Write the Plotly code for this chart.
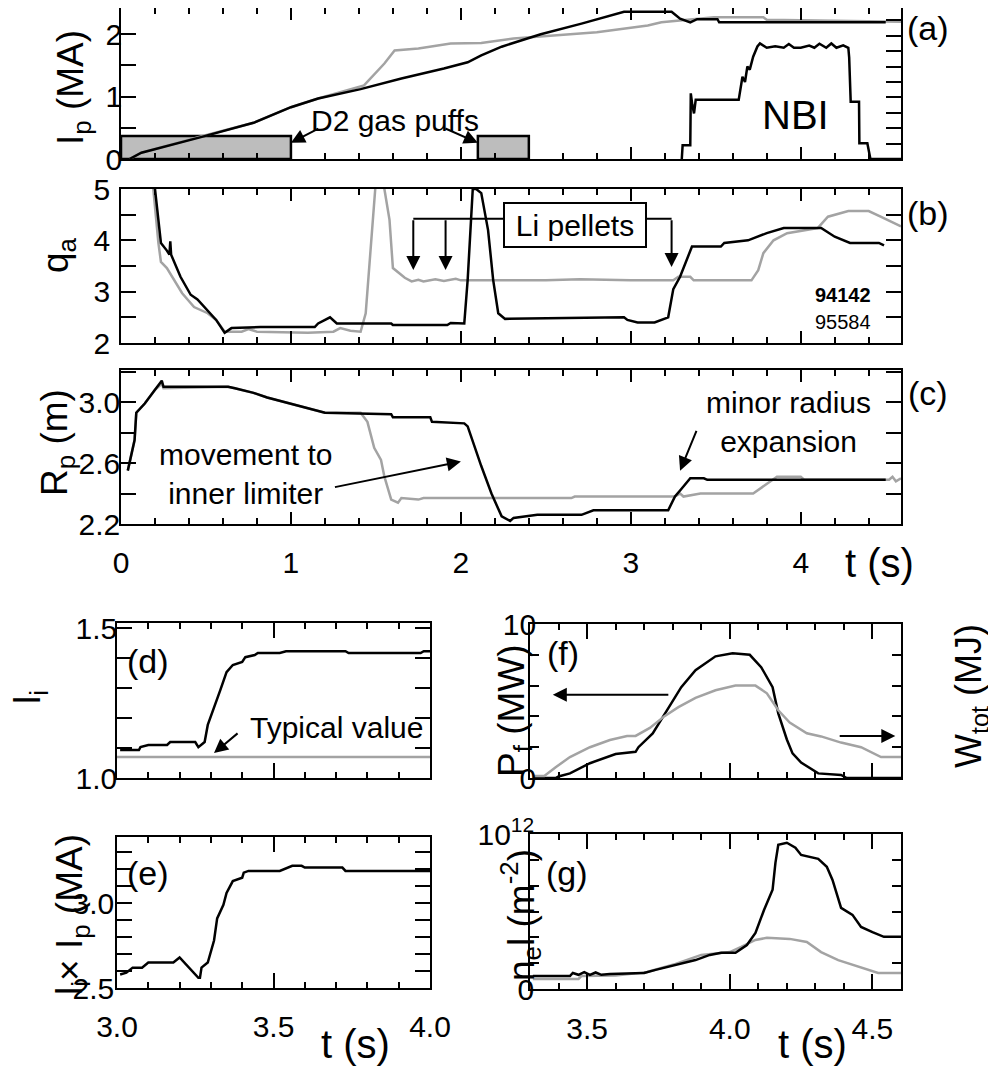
import plotly.graph_objects as go

# page canvas (the browser adds an 8px body margin, so the figure is drawn 8px smaller and positions offset)
W, H = 996, 1069
OFF = 8
FW, FH = W - OFF, H - OFF
FONT = "Liberation Sans, Arial, Helvetica, sans-serif"
BLACK = "black"
GRAY = "#a3a3a3"

# ---------------- data ----------------
# (a) plasma current, MA
t_ip_94142 = [0.05, 0.12, 0.47, 0.78, 1.0, 1.16, 1.41, 1.65, 1.9, 2.04, 2.12, 2.24, 2.47, 2.71, 2.96, 3.24, 3.29, 3.35, 3.39, 3.51, 3.52, 4.5]
ip_94142 = [0.0, 0.1, 0.35, 0.58, 0.83, 0.97, 1.12, 1.29, 1.45, 1.55, 1.66, 1.8, 2.0, 2.17, 2.36, 2.36, 2.25, 2.19, 2.24, 2.24, 2.19, 2.19]
t_ip_95584 = [0.05, 0.12, 0.47, 0.78, 1.0, 1.16, 1.43, 1.55, 1.61, 1.75, 1.94, 2.12, 2.31, 2.8, 3.1, 3.18, 3.49, 3.78, 3.8, 4.59]
ip_95584 = [0.0, 0.1, 0.36, 0.58, 0.83, 0.97, 1.18, 1.53, 1.74, 1.77, 1.85, 1.86, 1.93, 2.03, 2.14, 2.19, 2.27, 2.27, 2.23, 2.2]
# D2 gas puffs (start, end) and level drawn
puff_start = [0.0, 2.1]
puff_end = [1.0, 2.4]
puff_level = 0.37
# NBI power, MW (right axis of (a))
t_nbi = [3.30, 3.305, 3.35, 3.353, 3.362, 3.372, 3.382, 3.40, 3.635, 3.657, 3.672, 3.686, 3.70, 3.72, 3.745, 3.76,
         3.80, 3.85, 3.90, 3.93, 3.96, 4.00, 4.05, 4.08, 4.11, 4.15, 4.18, 4.21, 4.25, 4.28,
         4.285, 4.294, 4.343, 4.345, 4.392, 4.41, 4.59]
nbi = [0, 4.5, 4.5, 21.3, 17.5, 14.8, 19.2, 19.2, 19.2, 26.7, 25, 30, 29, 33.2, 36.5, 37.5,
       36.1, 36.6, 36.1, 37.3, 36.1, 36.1, 36.8, 36.1, 37.4, 36.1, 37.5, 36.1, 36.9, 36.1,
       33, 18.6, 18.6, 5.1, 5.1, 0, 0]

# (b) edge safety factor
t_q_94142 = [0.18, 0.20, 0.22, 0.235, 0.27, 0.285, 0.29, 0.295, 0.35, 0.41, 0.45, 0.51, 0.56, 0.61, 0.65, 0.82, 1.14, 1.16,
             1.23, 1.27, 1.59, 1.60, 1.92, 1.94, 2.02, 2.04, 2.07, 2.09, 2.12, 2.16, 2.19, 2.22, 2.26, 2.96, 2.98,
             3.04, 3.14, 3.22, 3.25, 3.29, 3.33, 3.36, 3.53, 3.55, 3.69, 3.80, 3.90, 4.12, 4.20, 4.29, 4.46, 4.49]
q_94142 = [5.6, 5.0, 4.53, 3.95, 3.8, 3.72, 3.98, 3.72, 3.29, 2.94, 2.85, 2.64, 2.45, 2.2, 2.29, 2.31, 2.31, 2.38,
           2.5, 2.38, 2.38, 2.35, 2.35, 2.39, 2.38, 3.23, 5.0, 5.0, 4.92, 4.2, 3.23, 2.58, 2.47, 2.5, 2.45,
           2.4, 2.4, 2.5, 3.05, 3.29, 3.62, 3.88, 3.88, 3.95, 4.0, 4.14, 4.24, 4.24, 4.07, 3.95, 3.95, 3.9]
t_q_95584 = [0.18, 0.19, 0.22, 0.235, 0.27, 0.30, 0.36, 0.43, 0.51, 0.56, 0.61, 0.71, 0.75, 0.80, 1.10, 1.25, 1.29, 1.35,
             1.41, 1.44, 1.47, 1.50, 1.51, 1.54, 1.55, 1.58, 1.60, 1.67, 1.71, 1.75, 1.78, 1.85, 1.90, 1.97, 2.0,
             2.5, 2.7, 3.0, 3.25, 3.28, 3.35, 3.37, 3.71, 3.75, 3.78, 3.84, 3.92, 4.10, 4.16, 4.28, 4.40, 4.47, 4.59]
q_95584 = [5.6, 5.0, 3.95, 3.58, 3.46, 3.3, 2.97, 2.7, 2.58, 2.45, 2.22, 2.22, 2.27, 2.22, 2.2, 2.22, 2.29, 2.24,
           2.22, 2.58, 3.87, 5.0, 5.6, 5.6, 5.0, 4.4, 3.46, 3.27, 3.2, 3.23, 3.2, 3.24, 3.21, 3.25, 3.22,
           3.22, 3.24, 3.22, 3.22, 3.29, 3.29, 3.22, 3.22, 3.42, 3.75, 4.0, 4.14, 4.24, 4.46, 4.57, 4.57, 4.46, 4.27]

# (c) major radius, m
t_r_94142 = [0.04, 0.06, 0.08, 0.09, 0.14, 0.20, 0.24, 0.25, 0.63, 0.67, 0.78, 0.86, 1.06, 1.20, 1.59, 1.60, 1.82, 1.83,
             2.02, 2.04, 2.12, 2.18, 2.24, 2.29, 2.31, 2.45, 2.71, 2.78, 3.22, 3.26, 3.29, 3.35, 3.43, 3.45, 4.50]
r_94142 = [2.55, 2.66, 2.75, 2.93, 2.99, 3.08, 3.14, 3.10, 3.10, 3.09, 3.06, 3.03, 2.97, 2.93, 2.92, 2.90, 2.90, 2.87,
           2.86, 2.84, 2.58, 2.40, 2.25, 2.22, 2.24, 2.26, 2.26, 2.29, 2.29, 2.38, 2.42, 2.50, 2.50, 2.49, 2.49]
t_r_95584 = [0.04, 0.06, 0.08, 0.09, 0.14, 0.20, 0.24, 0.25, 0.63, 0.67, 0.78, 0.86, 1.06, 1.20, 1.41, 1.45, 1.49, 1.53,
             1.55, 1.59, 1.63, 1.65, 1.75, 1.78, 2.65, 2.67, 3.26, 3.29, 3.31, 3.41, 3.72, 3.76, 3.84, 3.86, 4.00,
             4.02, 4.52, 4.54, 4.56, 4.59]
r_95584 = [2.55, 2.66, 2.75, 2.93, 2.99, 3.08, 3.12, 3.09, 3.10, 3.09, 3.06, 3.03, 2.97, 2.93, 2.93, 2.87, 2.70, 2.62,
           2.51, 2.36, 2.34, 2.37, 2.36, 2.37, 2.37, 2.38, 2.38, 2.40, 2.38, 2.40, 2.40, 2.43, 2.49, 2.51, 2.51,
           2.49, 2.49, 2.51, 2.48, 2.50]

# (d) internal inductance
t_li = [3.01, 3.07, 3.075, 3.10, 3.16, 3.17, 3.25, 3.26, 3.28, 3.285, 3.29, 3.33, 3.34, 3.35, 3.37, 3.40, 3.41, 3.44,
        3.45, 3.52, 3.54, 3.73, 3.74, 3.97, 3.98, 4.0]
li = [1.093, 1.093, 1.103, 1.11, 1.11, 1.12, 1.12, 1.103, 1.12, 1.143, 1.177, 1.293, 1.327, 1.353, 1.377, 1.387, 1.403,
      1.41, 1.417, 1.417, 1.423, 1.423, 1.417, 1.417, 1.423, 1.423]
t_li_typ = [3.0, 4.0]
li_typ = [1.07, 1.07]

# (e) li x Ip, MA
t_liip = [3.01, 3.03, 3.05, 3.08, 3.10, 3.18, 3.20, 3.26, 3.265, 3.27, 3.29, 3.31, 3.32, 3.34, 3.35, 3.37, 3.40,
          3.405, 3.42, 3.52, 3.56, 3.59, 3.60, 3.72, 3.73, 4.0]
liip = [2.58, 2.59, 2.62, 2.62, 2.65, 2.65, 2.68, 2.56, 2.56, 2.62, 2.65, 2.78, 2.91, 2.99, 3.06, 3.13, 3.15,
        3.18, 3.19, 3.19, 3.22, 3.22, 3.21, 3.21, 3.19, 3.19]

# (f) fusion power (MW) and stored energy (MJ)
t_pf = [3.31, 3.39, 3.40, 3.44, 3.51, 3.60, 3.67, 3.68, 3.73, 3.77, 3.81, 3.83, 3.88, 3.95, 4.01, 4.07, 4.11, 4.15,
        4.17, 4.20, 4.22, 4.25, 4.31, 4.39, 4.41, 4.60]
pf = [0, 0, 0.1, 0.3, 0.96, 1.56, 1.7, 2.0, 2.9, 4.1, 5.3, 5.9, 7.0, 7.9, 8.1, 8.0, 7.2, 5.9,
      4.2, 2.5, 1.6, 1.0, 0.3, 0.2, 0, 0]
t_w = [3.31, 3.35, 3.39, 3.44, 3.51, 3.58, 3.64, 3.67, 3.72, 3.77, 3.82, 3.88, 3.95, 4.02, 4.09, 4.13, 4.17, 4.21,
       4.27, 4.32, 4.39, 4.46, 4.53, 4.60]
w_tot = [0.13, 0.13, 0.7, 1.36, 2.0, 2.47, 2.73, 2.73, 3.25, 4.0, 4.6, 5.2, 5.7, 6.0, 6.0, 5.5, 4.4, 3.6,
         2.9, 2.7, 2.3, 2.0, 1.36, 1.36]

# (g) line density (axis units; top tick = 10^12)
t_nl_94142 = [3.31, 3.44, 3.45, 3.47, 3.49, 3.51, 3.53, 3.55, 3.58, 3.70, 3.74, 3.81, 3.88, 3.93, 3.97, 4.02, 4.06,
              4.09, 4.12, 4.15, 4.16, 4.17, 4.20, 4.23, 4.25, 4.31, 4.34, 4.36, 4.39, 4.43, 4.46, 4.50, 4.54, 4.60]
nl_94142 = [0.5, 0.5, 0.62, 0.55, 0.65, 0.55, 0.64, 0.55, 0.58, 0.62, 0.74, 0.93, 1.12, 1.32, 1.4, 1.4, 1.7,
            2.17, 3.06, 3.84, 4.88, 5.58, 5.66, 5.47, 5.19, 5.04, 4.73, 4.22, 3.14, 2.87, 2.4, 2.2, 2.02, 2.02]
t_nl_95584 = [3.31, 3.47, 3.48, 3.60, 3.71, 3.81, 3.90, 4.00, 4.04, 4.09, 4.13, 4.21, 4.27, 4.32, 4.38, 4.46, 4.52, 4.60]
nl_95584 = [0.39, 0.39, 0.5, 0.52, 0.66, 0.97, 1.32, 1.43, 1.63, 1.9, 1.98, 1.94, 1.82, 1.43, 1.12, 0.85, 0.62, 0.62]

shots = ["94142", "95584"]


# ---------------- helpers ----------------
def fx(p):
    return min(max((p - OFF) / FW, 0.0), 1.0)


def fy(p):
    return min(max(1 - (p - OFF) / FH, 0.0), 1.0)


def tick_font(size=30):
    return dict(family=FONT, size=size, color=BLACK)


def xaxis(dom, rng, anchor, dtick, minor, tl, tlm, labels, tick0=0.0, fmt=None, standoff=0):
    d = dict(domain=[fx(dom[0]), fx(dom[1])], range=rng, anchor=anchor, showline=True, linecolor=BLACK,
             linewidth=1.6, mirror="ticks", ticks="inside", ticklen=tl, tickwidth=1.5, tickcolor=BLACK,
             tick0=tick0, dtick=dtick, automargin=False,
             minor=dict(dtick=minor, tick0=tick0, ticklen=tlm, tickwidth=1.5, tickcolor=BLACK, ticks="inside"),
             showticklabels=labels, tickfont=tick_font(), showgrid=False, zeroline=False,
             ticklabelstandoff=standoff)
    if fmt:
        d["tickformat"] = fmt
    return d


def yaxis(dom, rng, anchor, dtick, minor, tl, tick0=0.0, fmt=None, mirror="ticks", standoff=0, **kw):
    d = dict(domain=[fy(dom[1]), fy(dom[0])], range=rng, anchor=anchor, showline=True, linecolor=BLACK,
             linewidth=1.6, mirror=mirror, ticks="inside", ticklen=tl, tickwidth=1.5, tickcolor=BLACK,
             tick0=tick0, dtick=dtick, automargin=False,
             minor=dict(dtick=minor, tick0=tick0, ticklen=tl, tickwidth=1.5, tickcolor=BLACK, ticks="inside"),
             tickfont=tick_font(), showgrid=False, zeroline=False, ticklabelstandoff=standoff)
    if fmt:
        d["tickformat"] = fmt
    d.update(kw)
    return d


def right_axis(over, anchor, rng, dtick, tl):
    return dict(overlaying=over, side="right", anchor=anchor, range=rng, showline=True, linecolor=BLACK,
                linewidth=1.6, ticks="inside", ticklen=tl, tickwidth=1.5, tickcolor=BLACK, dtick=dtick,
                showticklabels=False, showgrid=False, zeroline=False, automargin=False)


def line(x, y, color, xa, ya, width=2.5, name=None):
    return go.Scatter(x=x, y=y, mode="lines", line=dict(color=color, width=width), xaxis=xa, yaxis=ya,
                      showlegend=False, name=name, hoverinfo="skip")


fig = go.Figure()

# (a)
for s, e in zip(puff_start, puff_end):
    fig.add_trace(go.Scatter(x=[s, s, e, e, s], y=[0, puff_level, puff_level, 0, 0], mode="lines",
                             fill="toself", fillcolor="#bdbdbd", line=dict(color=BLACK, width=2.5),
                             xaxis="x", yaxis="y", showlegend=False, hoverinfo="skip"))
fig.add_trace(line(t_ip_95584, ip_95584, GRAY, "x", "y", name=shots[1]))
fig.add_trace(line(t_ip_94142, ip_94142, BLACK, "x", "y", name=shots[0]))
fig.add_trace(line(t_nbi, nbi, BLACK, "x", "y2", width=2.5, name="NBI"))
# (b)
fig.add_trace(line(t_q_95584, q_95584, GRAY, "x2", "y3"))
fig.add_trace(line(t_q_94142, q_94142, BLACK, "x2", "y3"))
# (c)
fig.add_trace(line(t_r_95584, r_95584, GRAY, "x3", "y4"))
fig.add_trace(line(t_r_94142, r_94142, BLACK, "x3", "y4"))
# (d)
fig.add_trace(line(t_li_typ, li_typ, GRAY, "x4", "y5"))
fig.add_trace(line(t_li, li, BLACK, "x4", "y5"))
# (e)
fig.add_trace(line(t_liip, liip, BLACK, "x5", "y6"))
# (f)
fig.add_trace(line(t_w, w_tot, GRAY, "x6", "y8"))
fig.add_trace(line(t_pf, pf, BLACK, "x6", "y7"))
# (g)
fig.add_trace(line(t_nl_95584, nl_95584, GRAY, "x7", "y9"))
fig.add_trace(line(t_nl_94142, nl_94142, BLACK, "x7", "y9"))

XT = (121, 901)
layout = dict(
    template="none",
    width=FW, height=FH, margin=dict(l=0, r=0, t=0, b=0, pad=0), paper_bgcolor="white", plot_bgcolor="white",
    font=dict(family=FONT, color=BLACK), autosize=False,
    xaxis=xaxis(XT, [0, 4.59], "y", 1, 0.2, 12, 6, False),
    yaxis=yaxis((8, 159), [0, 2.42], "x", 1, 0.5, 15, mirror=False, standoff=-9),
    yaxis2=right_axis("y", "x", [0, 49], 5, 15),
    xaxis2=xaxis(XT, [0, 4.59], "y3", 1, 0.2, 12, 6, False),
    yaxis3=yaxis((189, 343), [2, 5], "x2", 1, 0.5, 15, standoff=3),
    xaxis3=xaxis(XT, [0, 4.59], "y4", 1, 0.2, 12, 6, True, standoff=11),
    yaxis4=yaxis((370, 524), [2.2, 3.21], "x3", 0.4, 0.2, 15, tick0=2.2, fmt=".1f", standoff=-7),
    xaxis4=xaxis((117, 430), [3.0, 4.0], "y5", 0.5, 0.1, 15, 6, False, tick0=3.0),
    yaxis5=yaxis((623, 778), [1.0, 1.517], "x4", 0.5, 0.1, 15, tick0=1.0, fmt=".1f", standoff=-8),
    xaxis5=xaxis((117, 430), [3.0, 4.0], "y6", 0.5, 0.1, 15, 6, True, tick0=3.0, fmt=".1f", standoff=11),
    yaxis6=yaxis((837, 988), [2.5, 3.39], "x5", 0.5, 0.1, 15, tick0=2.5, fmt=".1f", standoff=-5),
    xaxis6=xaxis((530, 901), [3.3, 4.6], "y7", 0.5, 0.1, 15, 6, False, tick0=3.5),
    yaxis7=yaxis((624, 778), [0, 10], "x6", 10, 2, 9, mirror=False, standoff=-14),
    yaxis8=right_axis("y7", "x6", [0, 10], 2, 9),
    xaxis7=xaxis((530, 901), [3.3, 4.6], "y9", 0.5, 0.1, 15, 6, True, tick0=3.5, fmt=".1f", standoff=12),
    yaxis9=yaxis((834, 989), [0, 6], "x7", 1, 1, 9, standoff=-12, tickmode="array", tickvals=[0, 6],
                 ticktext=["0", "10<sup>12</sup>"]),
)
fig.update_layout(**layout)

ann = []


def text(x, y, s, size=30, xref="paper", yref="paper", angle=0, **kw):
    d = dict(x=x, y=y, text=s, showarrow=False, xref=xref, yref=yref, textangle=angle,
             font=dict(family=FONT, size=size, color=BLACK), xanchor="center", yanchor="middle")
    d.update(kw)
    ann.append(d)


def arrow(x, y, ax, ay, xref, yref):
    ann.append(dict(x=x, y=y, ax=ax, ay=ay, xref=xref, yref=yref, axref=xref, ayref=yref, text="",
                    showarrow=True, arrowhead=2, arrowsize=1.4, arrowwidth=2, arrowcolor=BLACK, standoff=0))


# panel labels
text(fx(928), fy(8), "(a)", 34, yanchor="top", borderpad=0)
text(fx(928), fy(213), "(b)", 34)
text(fx(928), fy(393), "(c)", 34)
text(3.10, 1.39, "(d)", 34, "x4", "y5")
text(3.10, 3.18, "(e)", 34, "x5", "y6")
text(3.415, 8.1, "(f)", 34, "x6", "y7")
text(3.43, 4.5, "(g)", 34, "x7", "y9")

# y titles
text(fx(73), fy(88), "I<sub>p</sub> (MA)", 37, angle=-90)
text(fx(58), fy(255), "q<sub>a</sub>", 37, angle=-90)
text(fx(57), fy(443), "R<sub>p</sub> (m)", 37, angle=-90)
text(fx(30), fy(697), "l<sub>i</sub>", 37, angle=-90)
text(fx(72), fy(915), "l<sub>i</sub>× I<sub>p</sub> (MA)", 37, angle=-90)
text(fx(514), fy(711), "P<sub>f</sub> (MW)", 37, angle=-90)
text(fx(971), fy(696), "W<sub>tot</sub> (MJ)", 36, angle=-90, borderpad=0)
text(fx(520), fy(915), "n<sub>e</sub>l (m<sup>-2</sup>)", 37, angle=-90)

# x titles
text(fx(879), fy(563), "t (s)", 40)
text(fx(355), fy(1044), "t (s)", 40)
text(fx(812), fy(1044), "t (s)", 40)

# (a) annotations
text(3.97, 0.7, "NBI", 40, "x", "y")
text(1.61, 0.61, "D2 gas puffs", 30, "x", "y")
arrow(1.0, 0.26, 1.17, 0.50, "x", "y")
arrow(2.1, 0.26, 1.90, 0.50, "x", "y")

# (b) annotations
fig.add_shape(type="line", x0=1.72, x1=3.24, y0=4.42, y1=4.42, xref="x2", yref="y3",
              line=dict(color=BLACK, width=2))
arrow(1.72, 3.42, 1.72, 4.42, "x2", "y3")
arrow(1.91, 3.42, 1.91, 4.42, "x2", "y3")
arrow(3.24, 3.48, 3.24, 4.42, "x2", "y3")
text(2.67, 4.3, "Li pellets", 30, "x2", "y3", bgcolor="white", bordercolor=BLACK, borderwidth=2, borderpad=5,
     width=130, height=32)
text(4.25, 2.94, "<b>" + shots[0] + "</b>", 20, "x2", "y3")
text(4.25, 2.41, shots[1], 20, "x2", "y3")

# (c) annotations
text(0.73, 2.53, "movement to<br>inner limiter", 30, "x3", "y4")
arrow(2.0, 2.61, 1.25, 2.44, "x3", "y4")
text(3.93, 2.87, "minor radius<br>expansion", 30, "x3", "y4")
arrow(3.29, 2.55, 3.39, 2.82, "x3", "y4")

# (d) annotations
text(3.70, 1.167, "Typical value", 30, "x4", "y5")
arrow(3.31, 1.083, 3.39, 1.153, "x4", "y5")

# (f) annotations
arrow(3.38, 5.4, 3.79, 5.4, "x6", "y7")
arrow(4.58, 2.73, 4.38, 2.73, "x6", "y7")

fig.update_layout(annotations=ann)
fig.write_html("out.html")
